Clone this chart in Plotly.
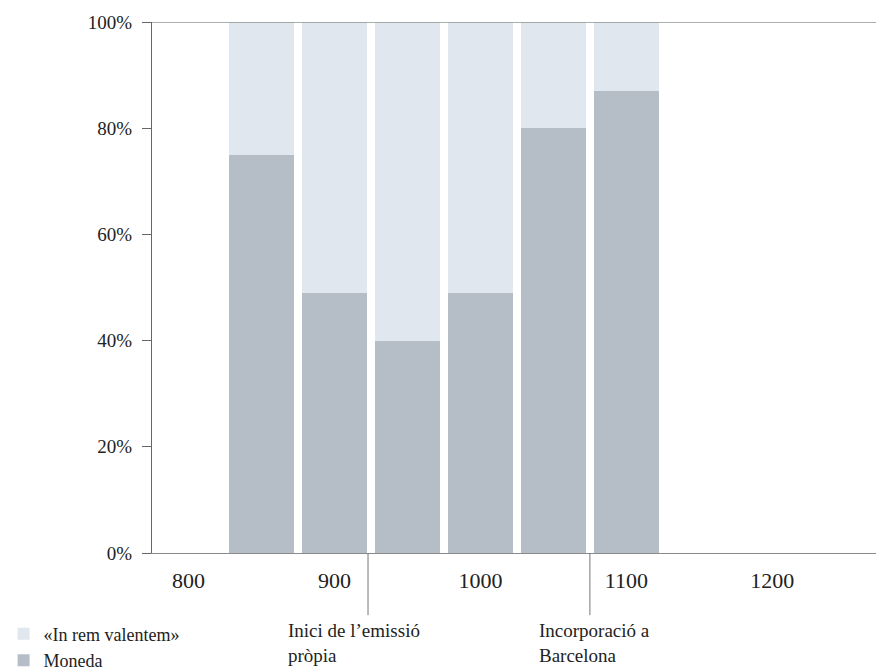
import plotly.graph_objects as go

# ---- data ----
periods = [850, 900, 950, 1000, 1050, 1100]
moneda = [75, 49, 40, 49, 80, 87]
in_rem_valentem = [25, 51, 60, 51, 20, 13]
x_tick_vals = [800, 900, 1000, 1100, 1200]
x_tick_text = ["800", "900", "1000", "1100", "1200"]
y_tick_vals = [0, 20, 40, 60, 80, 100]
y_tick_text = ["0%", "20%", "40%", "60%", "80%", "100%"]
event_years = [923, 1075]
event_label_x = [867, 1039]
event_labels = ["Inici de l’emissió<br>pròpia", "Incorporació a<br>Barcelona"]

FONT = "Liberation Serif"
DARK = "#b5bdc6"
LIGHT = "#e0e7ee"

fig = go.Figure()
fig.add_trace(go.Bar(x=periods, y=moneda, name="Moneda", width=45,
                     marker=dict(color=DARK, line=dict(width=0))))
fig.add_trace(go.Bar(x=periods, y=in_rem_valentem, name="«In rem valentem»", width=45,
                     marker=dict(color=LIGHT, line=dict(width=0))))

# top 100% line
fig.add_shape(type="line", xref="paper", yref="y", x0=0, x1=1, y0=100, y1=100,
              line=dict(color="#8e958e", width=1.5), layer="above")

for ex in event_years:
    fig.add_shape(type="line", xref="x", yref="paper", x0=ex, x1=ex, y0=0, y1=-0.117,
                  line=dict(color="#777777", width=1))

for lx, lab in zip(event_label_x, event_labels):
    fig.add_annotation(x=lx, y=-0.122, xref="x", yref="paper", text=lab,
                       showarrow=False, xanchor="left", yanchor="top", align="left",
                       font=dict(family=FONT, size=19, color="#222222"))

fig.update_layout(
    width=876, height=670,
    margin=dict(l=152, r=0, t=22, b=117, autoexpand=False),
    barmode="stack",
    plot_bgcolor="white", paper_bgcolor="white",
    font=dict(family=FONT, color="#222222"),
    showlegend=True,
    legend=dict(x=-0.205, y=-0.118, xanchor="left", yanchor="top", traceorder="reversed",
                font=dict(family=FONT, size=18, color="#222222"),
                bgcolor="rgba(0,0,0,0)", tracegroupgap=0, itemsizing="constant"),
    xaxis=dict(range=[775, 1271], tickvals=x_tick_vals, ticktext=x_tick_text,
               showgrid=False, zeroline=False, showline=True, linecolor="#8a8a8a", linewidth=1,
               ticks="", ticklabelstandoff=8,
               tickfont=dict(family=FONT, size=22, color="#222222")),
    yaxis=dict(range=[0, 100], tickvals=y_tick_vals, ticktext=y_tick_text,
               showgrid=False, zeroline=False, showline=True, linecolor="#666666", linewidth=1,
               ticks="outside", ticklen=9, tickcolor="#666666", ticklabelstandoff=6,
               tickfont=dict(family=FONT, size=19, color="#222222")),
)

fig.write_html("out.html", config={"displayModeBar": False},
               post_script="document.body.style.margin='0';document.body.style.overflow='hidden';")
